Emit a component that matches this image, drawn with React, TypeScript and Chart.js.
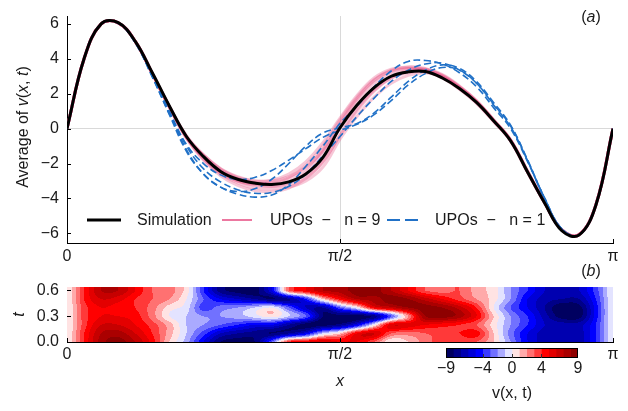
import React, { useEffect, useRef } from 'react';
import { Chart, registerables } from 'chart.js';

Chart.register(...registerables);

const FONT = "'Liberation Sans', Arial, Helvetica, sans-serif";
const TEXT = '#1a1a1a';

// ---------- shared x positions (radians, 0..π in 32 steps) ----------
const X_GRID = [
  0, 0.0982, 0.1963, 0.2945, 0.3927, 0.4909, 0.589, 0.6872, 0.7854, 0.8836, 0.9817,
  1.0799, 1.1781, 1.2763, 1.3744, 1.4726, 1.5708, 1.669, 1.7671, 1.8653, 1.9635,
  2.0617, 2.1598, 2.258, 2.3562, 2.4544, 2.5525, 2.6507, 2.7489, 2.8471, 2.9452,
  3.0434, 3.1416,
];
const X_TICKS = [0, Math.PI / 2, Math.PI];
const X_TICK_LABELS = ['0', 'π/2', 'π'];

// ---------- panel (a): time-averaged profiles ----------
const Y_TICKS = [-6, -4, -2, 0, 2, 4, 6];

const SIMULATION = [0, 4.0, 6.0, 6.07, 5.0, 3.2, 1.3, -0.45, -1.6, -2.45, -2.9, -3.12, -3.2, -3.05, -2.6, -1.65, 0.05, 1.35, 2.35, 3.0, 3.25, 3.27, 2.9, 2.3, 1.5, 0.45, -0.7, -2.5, -4.27, -5.85, -6.1, -4.37, 0];

const UPO_N1_A = [0, 4.0, 6.0, 6.05, 4.9, 2.95, 0.8, -1.3, -2.6, -3.35, -3.75, -3.92, -3.8, -3.2, -2.15, -1.0, 0.3, 1.3, 2.4, 3.3, 3.85, 3.9, 3.7, 3.2, 2.4, 1.2, 0.0, -1.9, -4.0, -5.75, -6.1, -4.35, 0];
const UPO_N1_B = [0, 4.0, 6.0, 6.05, 4.95, 3.0, 0.9, -1.2, -2.6, -3.35, -3.6, -3.45, -2.9, -2.0, -1.0, -0.25, 0.05, 0.3, 0.9, 1.8, 2.7, 3.35, 3.65, 3.45, 2.7, 1.5, 0.2, -1.8, -4.0, -5.75, -6.1, -4.35, 0];
const UPO_N1_C = [0, 4.0, 6.0, 6.05, 4.95, 3.05, 1.0, -0.9, -2.0, -2.65, -2.9, -2.8, -2.4, -1.8, -1.15, -0.5, -0.1, 0.25, 0.8, 1.6, 2.5, 3.15, 3.5, 3.35, 2.6, 1.4, 0.15, -1.85, -4.05, -5.8, -6.1, -4.35, 0];
const UPO_N1_D = [0, 4.0, 6.0, 6.05, 4.95, 3.0, 0.85, -1.0, -2.3, -3.05, -3.5, -3.7, -3.65, -3.3, -2.6, -1.55, -0.45, 0.7, 1.75, 2.7, 3.35, 3.7, 3.75, 3.35, 2.6, 1.35, 0.1, -1.85, -4.0, -5.75, -6.1, -4.35, 0];

const UPO_N9_A = [0, 4.0, 6.0, 6.06, 5.0, 3.15, 1.25, -0.5, -1.5, -2.3, -2.75, -3.0, -2.95, -2.6, -1.9, -0.8, 0.6, 1.9, 2.9, 3.4, 3.5, 3.35, 2.95, 2.3, 1.5, 0.45, -0.7, -2.5, -4.25, -5.8, -6.08, -4.35, 0];
const UPO_N9_B = [0, 4.0, 6.0, 6.06, 5.0, 3.15, 1.25, -0.5, -1.75, -2.6, -3.1, -3.4, -3.45, -3.35, -3.0, -2.2, -0.6, 0.7, 1.8, 2.6, 3.05, 3.2, 2.95, 2.35, 1.55, 0.5, -0.65, -2.5, -4.25, -5.8, -6.08, -4.35, 0];
const UPO_N9_C = [0, 4.0, 6.0, 6.06, 5.0, 3.15, 1.25, -0.5, -1.65, -2.5, -3.0, -3.25, -3.3, -3.1, -2.5, -1.3, 0.3, 1.6, 2.6, 3.2, 3.45, 3.4, 3.0, 2.35, 1.5, 0.45, -0.7, -2.5, -4.25, -5.8, -6.08, -4.35, 0];
const UPO_N9_D = [0, 4.0, 6.0, 6.06, 5.0, 3.15, 1.25, -0.45, -1.55, -2.35, -2.85, -3.1, -3.15, -2.9, -2.3, -1.2, 0.3, 1.7, 2.75, 3.3, 3.45, 3.3, 2.9, 2.25, 1.45, 0.4, -0.7, -2.5, -4.25, -5.8, -6.08, -4.35, 0];
const UPO_N9_E = [0, 4.0, 6.0, 6.06, 5.0, 3.15, 1.25, -0.55, -1.8, -2.7, -3.25, -3.55, -3.6, -3.4, -2.85, -1.9, -0.35, 1.1, 2.2, 2.9, 3.2, 3.25, 2.95, 2.35, 1.55, 0.5, -0.65, -2.45, -4.25, -5.8, -6.08, -4.35, 0];
const UPO_N9_F = [0, 4.0, 6.0, 6.06, 5.0, 3.15, 1.25, -0.4, -1.5, -2.3, -2.8, -3.0, -3.0, -2.75, -2.2, -1.3, 0.0, 1.3, 2.3, 3.0, 3.3, 3.35, 3.05, 2.4, 1.6, 0.5, -0.65, -2.45, -4.25, -5.8, -6.08, -4.35, 0];
const UPO_N9_G = [0, 4.0, 6.0, 6.06, 5.0, 3.15, 1.25, -0.45, -1.6, -2.45, -2.95, -3.2, -3.3, -3.2, -2.8, -1.9, -0.4, 1.0, 2.15, 2.9, 3.3, 3.4, 3.1, 2.45, 1.6, 0.5, -0.65, -2.45, -4.25, -5.8, -6.08, -4.35, 0];
const UPO_N9_H = [0, 4.0, 6.0, 6.06, 5.0, 3.15, 1.25, -0.5, -1.7, -2.55, -3.0, -3.15, -3.1, -2.8, -2.1, -1.0, 0.5, 1.8, 2.8, 3.35, 3.55, 3.45, 3.05, 2.4, 1.55, 0.45, -0.7, -2.5, -4.25, -5.8, -6.08, -4.35, 0];

const LEGEND_LABELS = ['Simulation', 'UPOs  \u2212   n = 9', 'UPOs  \u2212   n = 1'];

// ---------- panel (b): v(x, t) field ----------
const T_GRID = [0, 0.1, 0.2, 0.3, 0.4, 0.5, 0.6];
const T_TICKS = [0, 0.3, 0.6];
const V_T00 = [0, 4, 7.5, 8.5, 7, 4.5, 1, -1.5, -5, -8, -8.5, -8, -3, 4, 5, 6, 5, 5, 3, 0, 1, 2.5, 3.5, 3.5, 3, 1, -2, -5, -6.5, -7, -6.5, -4, 0];
const V_T01 = [0, 4, 7, 7.5, 6, 4, 1.5, -1, -3.5, -6, -7, -7.5, -8, -7, -5, -1, 1, 5, 6, 3, 2.5, 3, 3.5, 4, 4.5, 1, -2.5, -5, -6.5, -6.5, -6.5, -4, 0];
const V_T02 = [0, 3.5, 6, 6, 5, 3.5, 1.5, -1, -2, -3, -4, -5, -5, -7, -8.5, -8.5, -7.5, -5, 0, 5.5, 5.5, 5, 4.5, 4, 3, 0.5, -2, -4, -6, -6.5, -6.5, -4, 0];
const V_T03 = [0, 3.5, 5, 5, 4.5, 2.5, 0, -1, -2, -2, -1.5, -0.5, 0.5, -1, -3, -8, -8.5, -8.5, -7.5, -3, 2, 8, 8.5, 7.5, 5, 1, -2, -4, -6.5, -8.5, -8.5, -4.5, 0];
const V_T04 = [0, 3.5, 5, 4.5, 4, 2.5, 0.5, -0.5, -3.5, -2.5, -2, -1, 0, -3, -6, -7, -3, 0, 5, 6.5, 8, 8.5, 8, 6.5, 4, 0, -3, -5, -7, -9, -8.5, -4.5, 0];
const V_T05 = [0, 4, 6, 5.5, 4, 3, 2, 0, -3, -5, -6, -7, -8, -7, -4, 1, 4.5, 7, 7.5, 8.5, 8, 6.5, 5, 3.5, 2, 0.5, -2, -5, -6.5, -7, -7, -4, 0];
const V_T06 = [0, 4, 7, 7, 5, 3, 2.5, 0.5, -4, -7.5, -8.5, -8.5, -5, 3, 5, 7, 7.5, 8.5, 8.5, 7, 5, 3, 2.5, 3, 1.5, 0.5, -2, -4, -6, -6.5, -6, -3.5, 0];
const HEAT_ROWS = [V_T00, V_T01, V_T02, V_T03, V_T04, V_T05, V_T06];

const LEVELS = [-9, -8, -7, -6, -5, -4, -3, -2, -1, 0, 1, 2, 3, 4, 5, 6, 7, 8, 9];
const CBAR_TICKS = [-9, -4, 0, 4, 9];

// ---------- helpers ----------
const minus = (v: number) => (v < 0 ? '\u2212' + String(Math.abs(v)) : String(v));

function seismic(f: number): [number, number, number] {
  const stops: number[][] = [
    [0, 0, 0, 0.3],
    [0.25, 0, 0, 1],
    [0.5, 1, 1, 1],
    [0.75, 1, 0, 0],
    [1, 0.5, 0, 0],
  ];
  for (let i = 0; i < stops.length - 1; i++) {
    const a = stops[i], b = stops[i + 1];
    if (f <= b[0]) {
      const u = (f - a[0]) / (b[0] - a[0]);
      return [
        Math.round(255 * (a[1] + (b[1] - a[1]) * u)),
        Math.round(255 * (a[2] + (b[2] - a[2]) * u)),
        Math.round(255 * (a[3] + (b[3] - a[3]) * u)),
      ];
    }
  }
  return [128, 0, 0];
}

const BIN_COLORS = LEVELS.slice(0, -1).map((lo, i) => {
  const mid = (lo + LEVELS[i + 1]) / 2;
  const f = (mid - LEVELS[0]) / (LEVELS[LEVELS.length - 1] - LEVELS[0]);
  return seismic(f);
});

function cr(p0: number, p1: number, p2: number, p3: number, u: number) {
  return 0.5 * (2 * p1 + (-p0 + p2) * u + (2 * p0 - 5 * p1 + 4 * p2 - p3) * u * u + (-p0 + 3 * p1 - 3 * p2 + p3) * u * u * u);
}

function locate(grid: number[], v: number): [number, number] {
  const c = Math.min(Math.max(v, grid[0]), grid[grid.length - 1]);
  let i = 0;
  while (i < grid.length - 2 && c > grid[i + 1]) i++;
  return [i, (c - grid[i]) / (grid[i + 1] - grid[i])];
}

function fieldAt(x: number, t: number) {
  const [i, fx] = locate(X_GRID, x);
  const [j, ft] = locate(T_GRID, t);
  const nx = X_GRID.length, nt = T_GRID.length;
  const ci = (k: number) => Math.min(Math.max(k, 0), nx - 1);
  const cj = (k: number) => Math.min(Math.max(k, 0), nt - 1);
  const rows = [j - 1, j, j + 1, j + 2].map((r) => {
    const row = HEAT_ROWS[cj(r)];
    return cr(row[ci(i - 1)], row[ci(i)], row[ci(i + 1)], row[ci(i + 2)], fx);
  });
  return cr(rows[0], rows[1], rows[2], rows[3], ft);
}

function levelColor(v: number) {
  let b = 0;
  while (b < LEVELS.length - 2 && v >= LEVELS[b + 1]) b++;
  return BIN_COLORS[b];
}

// ---------- plugins ----------
const inwardTicks = {
  id: 'inwardTicks',
  afterDraw(chart: any) {
    const { ctx, chartArea: a, scales } = chart;
    ctx.save();
    ctx.strokeStyle = '#000';
    ctx.lineWidth = 1;
    ctx.beginPath();
    scales.x.ticks.forEach((t: any) => {
      const px = Math.round(scales.x.getPixelForValue(t.value)) + 0.5;
      ctx.moveTo(px, a.bottom);
      ctx.lineTo(px, a.bottom - 4);
    });
    scales.y.ticks.forEach((t: any) => {
      const py = Math.round(scales.y.getPixelForValue(t.value)) + 0.5;
      ctx.moveTo(a.left, py);
      ctx.lineTo(a.left + 4, py);
    });
    ctx.stroke();
    ctx.restore();
  },
};

const manualLegend = {
  id: 'manualLegend',
  afterDatasetsDraw(chart: any) {
    const { ctx, chartArea: a } = chart;
    const ds = chart.data.datasets;
    const items = [
      { d: ds[0], x0: 20, x1: 54, tx: 70 },
      { d: ds[ds.length - 1], x0: 155, x1: 185, tx: 203 },
      { d: ds[1], x0: 320, x1: 351, tx: 368 },
    ];
    const y = a.bottom - 23;
    ctx.save();
    items.forEach((it, i) => {
      ctx.beginPath();
      ctx.strokeStyle = i === 1 ? 'rgb(236,120,160)' : it.d.borderColor;
      ctx.lineWidth = i === 0 ? 3 : i === 1 ? 2 : 1.8;
      ctx.setLineDash(i === 2 ? [13, 5] : []);
      ctx.moveTo(a.left + it.x0, y);
      ctx.lineTo(a.left + it.x1, y);
      ctx.stroke();
      ctx.setLineDash([]);
      ctx.font = `16px ${FONT}`;
      ctx.fillStyle = TEXT;
      ctx.textBaseline = 'middle';
      ctx.textAlign = 'left';
      ctx.fillText(LEGEND_LABELS[i], a.left + it.tx, y + 1);
    });
    ctx.restore();
  },
};

const heatPlugin = {
  id: 'heatField',
  beforeDatasetsDraw(chart: any) {
    const { ctx, chartArea: a, scales } = chart;
    const left = Math.round(a.left), top = Math.round(a.top);
    const w = Math.round(a.right) - left, h = Math.round(a.bottom) - top;
    const img = ctx.createImageData(w, h);
    for (let j = 0; j < h; j++) {
      const t = scales.y.getValueForPixel(top + j + 0.5);
      for (let i = 0; i < w; i++) {
        const x = scales.x.getValueForPixel(left + i + 0.5);
        const c = levelColor(fieldAt(x, t));
        const k = (j * w + i) * 4;
        img.data[k] = c[0];
        img.data[k + 1] = c[1];
        img.data[k + 2] = c[2];
        img.data[k + 3] = 255;
      }
    }
    ctx.putImageData(img, left, top);
  },
};

const cbarFrame = {
  id: 'cbarFrame',
  afterDraw(chart: any) {
    const { ctx, chartArea: a, scales } = chart;
    ctx.save();
    ctx.strokeStyle = '#000';
    ctx.lineWidth = 1;
    ctx.strokeRect(Math.round(a.left) + 0.5, Math.round(a.top) + 0.5, Math.round(a.right - a.left) - 1, Math.round(a.bottom - a.top) - 1);
    ctx.strokeStyle = '#333';
    ctx.beginPath();
    scales.x.ticks.forEach((t: any) => {
      if (t.value === LEVELS[0] || t.value === LEVELS[LEVELS.length - 1]) return;
      const px = Math.round(scales.x.getPixelForValue(t.value)) + 0.5;
      ctx.moveTo(px, a.bottom);
      ctx.lineTo(px, a.bottom - 4);
    });
    ctx.stroke();
    ctx.restore();
  },
};

// ---------- chart builders ----------
const tickFont = { family: FONT, size: 16, lineHeight: 1 };

function lineSet(values: number[], color: string, width: number, dash: number[] = []) {
  return {
    data: X_GRID.map((x, i) => ({ x, y: values[i] })),
    borderColor: color,
    borderWidth: width,
    borderDash: dash,
    pointRadius: 0,
    tension: 0.4,
    fill: false,
  };
}

function makeTop(canvas: HTMLCanvasElement) {
  const pink = 'rgba(232,84,134,0.33)';
  const blue = 'rgb(33,113,199)';
  return new Chart(canvas, {
    type: 'line',
    data: {
      datasets: [
        lineSet(SIMULATION, '#000', 3),
        lineSet(UPO_N1_A, blue, 1.6, [7, 3.5]),
        lineSet(UPO_N1_B, blue, 1.6, [7, 3.5]),
        lineSet(UPO_N1_C, blue, 1.6, [7, 3.5]),
        lineSet(UPO_N1_D, blue, 1.6, [7, 3.5]),
        lineSet(UPO_N9_A, pink, 3),
        lineSet(UPO_N9_B, pink, 3),
        lineSet(UPO_N9_C, pink, 3),
        lineSet(UPO_N9_D, pink, 3),
        lineSet(UPO_N9_E, pink, 3),
        lineSet(UPO_N9_F, pink, 3),
        lineSet(UPO_N9_G, pink, 3),
        lineSet(UPO_N9_H, pink, 3),
      ] as any,
    },
    options: {
      responsive: false,
      animation: false,
      devicePixelRatio: 1,
      layout: { padding: { top: 8, right: 15, left: 0, bottom: 0 } },
      plugins: { legend: { display: false }, tooltip: { enabled: false } },
      scales: {
        x: {
          type: 'linear',
          min: 0,
          max: Math.PI,
          afterFit: (s: any) => { s.height = 19; },
          afterBuildTicks: (s: any) => { s.ticks = X_TICKS.map((v) => ({ value: v })); },
          ticks: { callback: (_v: any, i: number) => X_TICK_LABELS[i], font: tickFont, color: TEXT, padding: 6, maxRotation: 0, autoSkip: false },
          grid: { drawTicks: false, color: (c: any) => (c.tick && Math.abs(c.tick.value - Math.PI / 2) < 1e-6 ? '#d9d9d9' : 'rgba(0,0,0,0)') },
          border: { color: '#000', width: 1 },
        },
        y: {
          type: 'linear',
          min: -6.55,
          max: 6.45,
          afterFit: (s: any) => { s.width = 67; },
          afterBuildTicks: (s: any) => { s.ticks = Y_TICKS.map((v) => ({ value: v })); },
          ticks: { callback: (v: any) => minus(Number(v)), font: tickFont, color: TEXT, padding: 8 },
          grid: { drawTicks: false, color: (c: any) => (c.tick && c.tick.value === 0 ? '#d9d9d9' : 'rgba(0,0,0,0)') },
          border: { color: '#000', width: 1 },
        },
      },
    } as any,
    plugins: [inwardTicks, manualLegend],
  });
}

function makeHeat(canvas: HTMLCanvasElement) {
  return new Chart(canvas, {
    type: 'scatter',
    data: { datasets: [{ data: [], pointRadius: 0 }] },
    options: {
      responsive: false,
      animation: false,
      devicePixelRatio: 1,
      layout: { padding: { top: 25, right: 15, left: 0, bottom: 0 } },
      plugins: { legend: { display: false }, tooltip: { enabled: false } },
      scales: {
        x: {
          type: 'linear',
          min: 0,
          max: Math.PI,
          z: 1,
          afterFit: (s: any) => { s.height = 69; },
          afterBuildTicks: (s: any) => { s.ticks = X_TICKS.map((v) => ({ value: v })); },
          ticks: { callback: (_v: any, i: number) => X_TICK_LABELS[i], font: tickFont, color: TEXT, padding: 5, maxRotation: 0, autoSkip: false },
          grid: { display: false, drawTicks: false },
          border: { color: '#000', width: 1 },
          title: { display: true, text: 'x', font: { family: FONT, size: 16, style: 'italic' }, color: TEXT, padding: { top: 0, bottom: 20 } },
        },
        y: {
          type: 'linear',
          min: 0,
          max: 0.64,
          z: 1,
          afterFit: (s: any) => { s.width = 67; },
          afterBuildTicks: (s: any) => { s.ticks = T_TICKS.map((v) => ({ value: v })); },
          ticks: { callback: (v: any) => Number(v).toFixed(1), font: tickFont, color: TEXT, padding: 8 },
          grid: { display: false, drawTicks: false },
          border: { color: '#000', width: 1 },
          title: { display: true, text: 't', font: { family: FONT, size: 16, style: 'italic' }, color: TEXT, padding: { top: 10, bottom: 0 } },
        },
      },
    } as any,
    plugins: [heatPlugin, inwardTicks],
  });
}

function makeCbar(canvas: HTMLCanvasElement) {
  const datasets = LEVELS.slice(0, -1).map((lo, i) => {
    const c = BIN_COLORS[i];
    return {
      data: [[lo, LEVELS[i + 1]]],
      backgroundColor: `rgb(${c[0]},${c[1]},${c[2]})`,
      borderWidth: 0,
      grouped: false,
      barPercentage: 1,
      categoryPercentage: 1,
    };
  });
  return new Chart(canvas, {
    type: 'bar',
    data: { labels: ['v'], datasets: datasets as any },
    options: {
      indexAxis: 'y',
      responsive: false,
      animation: false,
      devicePixelRatio: 1,
      layout: { padding: { top: 8, right: 22, left: 16, bottom: 0 } },
      plugins: { legend: { display: false }, tooltip: { enabled: false } },
      scales: {
        x: {
          type: 'linear',
          min: LEVELS[0],
          max: LEVELS[LEVELS.length - 1],
          afterFit: (s: any) => { s.height = 53; },
          afterBuildTicks: (s: any) => { s.ticks = CBAR_TICKS.map((v) => ({ value: v })); },
          ticks: { callback: (v: any) => minus(Number(v)), font: tickFont, color: TEXT, padding: 3, maxRotation: 0, autoSkip: false },
          grid: { display: false, drawTicks: false },
          border: { display: false },
          title: { display: true, text: 'v(x, t)', font: { family: FONT, size: 16 }, color: TEXT, padding: { top: 0, bottom: 8 } },
        },
        y: { display: false },
      },
    } as any,
    plugins: [cbarFrame],
  });
}

export default function App() {
  const topRef = useRef<HTMLCanvasElement>(null);
  const heatRef = useRef<HTMLCanvasElement>(null);
  const cbarRef = useRef<HTMLCanvasElement>(null);

  useEffect(() => {
    Chart.defaults.font.family = FONT;
    const charts = [makeTop(topRef.current!), makeHeat(heatRef.current!), makeCbar(cbarRef.current!)];
    return () => charts.forEach((c) => c.destroy());
  }, []);

  const label: React.CSSProperties = { position: 'absolute', fontFamily: FONT, fontSize: 16, color: TEXT, whiteSpace: 'nowrap' };

  return (
    <div style={{ position: 'fixed', left: 0, top: 0, width: 628, height: 411, background: '#fff', overflow: 'hidden' }}>
      <canvas ref={topRef} width={628} height={262} style={{ position: 'absolute', left: 0, top: 0 }} />
      <canvas ref={heatRef} width={628} height={149} style={{ position: 'absolute', left: 0, top: 262 }} />
      <canvas ref={cbarRef} width={170} height={71} style={{ position: 'absolute', left: 430, top: 340 }} />
      <div style={{ ...label, left: -77, top: 117, width: 200, height: 20, lineHeight: '20px', textAlign: 'center', transform: 'rotate(-90deg)' }}>
        Average of <i>v</i>(<i>x</i>, <i>t</i>)
      </div>
      <div style={{ ...label, left: 571, top: 7, width: 40, lineHeight: '20px', textAlign: 'center' }}>
        (<i>a</i>)
      </div>
      <div style={{ ...label, left: 571, top: 261, width: 40, lineHeight: '20px', textAlign: 'center' }}>
        (<i>b</i>)
      </div>
    </div>
  );
}
